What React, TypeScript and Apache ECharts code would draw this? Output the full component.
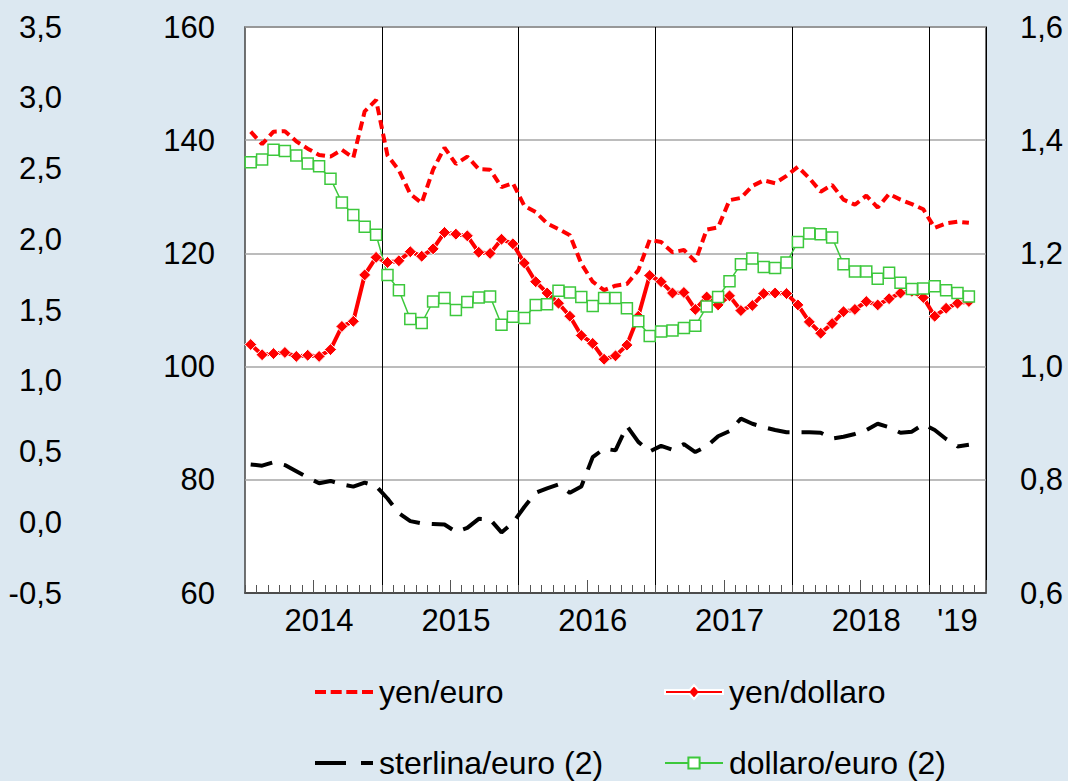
import React, { useEffect, useRef } from "react";
import * as echarts from "echarts";

const FONT = "'Liberation Sans', Arial, Helvetica, sans-serif";
const RED = "#ff0000";
const GREEN = "#3cc83c";
const BLACK = "#000000";

// Monthly categories Jan 2014 .. May 2019
const years = [2014, 2015, 2016, 2017, 2018, 2019];
const months: string[] = [];
years.forEach((y) => {
  const n = y === 2019 ? 5 : 12;
  for (let m = 1; m <= n; m++) months.push(`${y}-${m < 10 ? "0" + m : m}`);
});

// Year labels: category index -> text
const yearLabelIndex = [6, 18, 30, 42, 54, 62];
const yearLabelText = ["2014", "2015", "2016", "2017", "2018", "'19"];

// yen/euro (left scale)
const yenEuro = [
  141.5, 139.3, 141.5, 141.6, 139.8, 138.5, 137.4, 137.1, 138.3, 136.9, 145.1, 147.1,
  137.3, 134.7, 130.5, 128.9, 134.8, 138.7, 135.8, 137.1, 134.9, 134.8, 131.7, 132.4,
  128.4, 127.3, 125.3, 124.3, 123.2, 118.2, 115.0, 113.5, 114.3, 114.6, 117.0, 122.4,
  122.0, 120.2, 120.6, 118.6, 124.2, 124.6, 129.4, 129.8, 131.9, 132.9, 132.4, 133.7,
  135.3, 133.3, 130.9, 132.1, 129.5, 128.6, 130.2, 128.1, 130.5, 129.5, 128.7, 127.8,
  124.5, 125.3, 125.6, 125.4,
];

// yen/dollaro (left scale)
const yenDollaro = [
  103.9, 102.1, 102.3, 102.5, 101.8, 102.0, 101.8, 103.0, 107.1, 108.0, 116.2, 119.3,
  118.4, 118.7, 120.3, 119.5, 120.8, 123.7, 123.4, 123.1, 120.2, 120.0, 122.5, 121.7,
  118.3, 115.0, 113.0, 111.2, 108.9, 105.5, 104.1, 101.3, 101.9, 103.8, 108.9, 116.1,
  115.0, 113.0, 113.1, 110.1, 112.3, 110.9, 112.5, 109.9, 110.8, 112.9, 113.0, 112.9,
  110.9, 107.9, 105.9, 107.6, 109.7, 110.1, 111.5, 110.9, 112.0, 113.0, 113.3, 112.2,
  108.9, 110.3, 111.2, 111.5,
];

// sterlina/euro (2) (right scale)
const sterlinaEuro = [
  0.827, 0.825, 0.831, 0.826, 0.815, 0.804, 0.794, 0.798, 0.792, 0.788, 0.795, 0.789,
  0.767, 0.741, 0.727, 0.723, 0.722, 0.721, 0.708, 0.715, 0.731, 0.730, 0.707, 0.724,
  0.752, 0.777, 0.785, 0.792, 0.777, 0.788, 0.840, 0.855, 0.852, 0.895, 0.867, 0.850,
  0.860, 0.853, 0.863, 0.849, 0.859, 0.877, 0.886, 0.908, 0.899, 0.893, 0.888, 0.884,
  0.884, 0.884, 0.883, 0.873, 0.876, 0.881, 0.888, 0.899, 0.893, 0.883, 0.885, 0.898,
  0.888, 0.872, 0.859, 0.862,
];

// dollaro/euro (2) (right scale)
const dollaroEuro = [
  1.361, 1.366, 1.383, 1.381, 1.373, 1.359, 1.354, 1.332, 1.290, 1.268, 1.247, 1.233,
  1.162, 1.135, 1.084, 1.077, 1.115, 1.121, 1.100, 1.114, 1.122, 1.124, 1.074, 1.088,
  1.086, 1.109, 1.110, 1.134, 1.131, 1.123, 1.107, 1.121, 1.121, 1.103, 1.080, 1.054,
  1.062, 1.064, 1.068, 1.072, 1.106, 1.123, 1.151, 1.181, 1.191, 1.176, 1.174, 1.184,
  1.220, 1.235, 1.234, 1.228, 1.181, 1.168, 1.168, 1.155, 1.166, 1.148, 1.137, 1.138,
  1.142, 1.135, 1.130, 1.124,
];

const comma1 = (v: number) => v.toFixed(1).replace(".", ",");

// Legend icons (58 wide)
const ICON_DASH =
  "path://M0,0h11v4h-11zM15.7,0h11v4h-11zM31.3,0h11v4h-11zM47,0h11v4h-11z";
const ICON_LONGDASH = "path://M0,0h31v4h-31zM46,0h12v4h-12z";
const ICON_DIAMOND =
  "path://M0,5H24.7L29,0L33.3,5H58V9H33.3L29,14L24.7,9H0Z";

export default function App() {
  const ref = useRef<HTMLDivElement>(null);
  useEffect(() => {
    if (!ref.current) return;
    const chart = echarts.init(ref.current, null, { renderer: "svg" });
    const axisText = { fontSize: 31, color: "#000", fontFamily: FONT };
    const legendCommon = {
      itemWidth: 58,
      itemHeight: 14,
      itemGap: 5,
      padding: 0,
      selectedMode: false,
      textStyle: { fontSize: 32, lineHeight: 32, color: "#000", fontFamily: FONT, padding: [0, 0, 0, 1] },
    };
    chart.setOption({
      animation: false,
      backgroundColor: "#dce8f1",
      textStyle: { fontFamily: FONT },
      grid: {
        left: 245,
        right: 82,
        top: 27,
        bottom: 188,
        show: true,
        backgroundColor: "#ffffff",
        borderColor: "#444",
        borderWidth: 1.5,
      },
      xAxis: [
        {
          type: "category",
          data: months,
          boundaryGap: true,
          axisLine: { show: true, onZero: false, lineStyle: { color: "#333", width: 1.5 } },
          axisTick: { show: true, interval: 0, inside: true, length: 8, lineStyle: { color: "#555", width: 1 } },
          axisLabel: {
            ...axisText,
            interval: 0,
            margin: 12,
            formatter: (_v: string, i: number) => {
              const k = yearLabelIndex.indexOf(i);
              return k >= 0 ? yearLabelText[k] : "";
            },
          },
          splitLine: {
            show: true,
            interval: (i: number) => i % 12 === 0 && i > 0,
            lineStyle: { color: "#000", width: 1 },
          },
        },
        {
          type: "category",
          data: months,
          boundaryGap: true,
          position: "bottom",
          axisLine: { show: false, onZero: false },
          axisTick: { show: true, interval: (i: number) => i % 12 === 6, inside: true, length: 13, lineStyle: { color: "#555", width: 1 } },
          axisLabel: { show: false },
          splitLine: { show: false },
        },
      ],
      yAxis: [
        {
          type: "value",
          min: 60,
          max: 160,
          interval: 20,
          position: "left",
          axisLine: { show: false },
          axisTick: { show: false },
          axisLabel: { ...axisText, margin: 30 },
          splitLine: { show: true, lineStyle: { color: "#a6a6a6", width: 1.5 } },
        },
        {
          type: "value",
          min: 0.6,
          max: 1.6,
          interval: 0.2,
          position: "right",
          axisLine: { show: false },
          axisTick: { show: false },
          axisLabel: { ...axisText, margin: 34, formatter: comma1 },
          splitLine: { show: false },
        },
        {
          type: "value",
          min: -0.5,
          max: 3.5,
          interval: 0.5,
          position: "left",
          axisLine: { show: false },
          axisTick: { show: false },
          axisLabel: { ...axisText, margin: 183, formatter: comma1 },
          splitLine: { show: false },
        },
      ],
      legend: [
        { ...legendCommon, data: [{ name: "yen/euro", icon: ICON_DASH }], itemHeight: 4, left: 315, top: 676 },
        { ...legendCommon, data: [{ name: "yen/dollaro", icon: ICON_DIAMOND }], left: 664, top: 676 },
        { ...legendCommon, data: [{ name: "sterlina/euro (2)", icon: ICON_LONGDASH }], itemHeight: 4, left: 315, top: 747 },
        { ...legendCommon, data: ["dollaro/euro (2)"], left: 664, top: 747 },
      ],
      series: [
        {
          name: "yen/euro",
          type: "line",
          yAxisIndex: 0,
          data: yenEuro,
          symbol: "none",
          lineStyle: { color: RED, width: 4, type: [9, 5] },
          itemStyle: { color: RED },
        },
        {
          name: "yen/dollaro",
          type: "line",
          yAxisIndex: 0,
          data: yenDollaro,
          symbol: "diamond",
          symbolSize: 12,
          showAllSymbol: true,
          lineStyle: { color: RED, width: 4 },
          itemStyle: { color: RED, borderColor: "#fff", borderWidth: 1 },
        },
        {
          name: "sterlina/euro (2)",
          type: "line",
          yAxisIndex: 1,
          data: sterlinaEuro,
          symbol: "none",
          lineStyle: { color: BLACK, width: 4, type: [22, 12] },
          itemStyle: { color: BLACK },
        },
        {
          name: "dollaro/euro (2)",
          type: "line",
          yAxisIndex: 1,
          data: dollaroEuro,
          symbol: "rect",
          symbolSize: 11,
          showAllSymbol: true,
          lineStyle: { color: GREEN, width: 1.5 },
          itemStyle: { color: "#fff", borderColor: GREEN, borderWidth: 1.5 },
        },
      ],
    });
    return () => chart.dispose();
  }, []);
  return (
    <div
      ref={ref}
      style={{ position: "fixed", left: 0, top: 0, width: 1068, height: 781 }}
    />
  );
}
